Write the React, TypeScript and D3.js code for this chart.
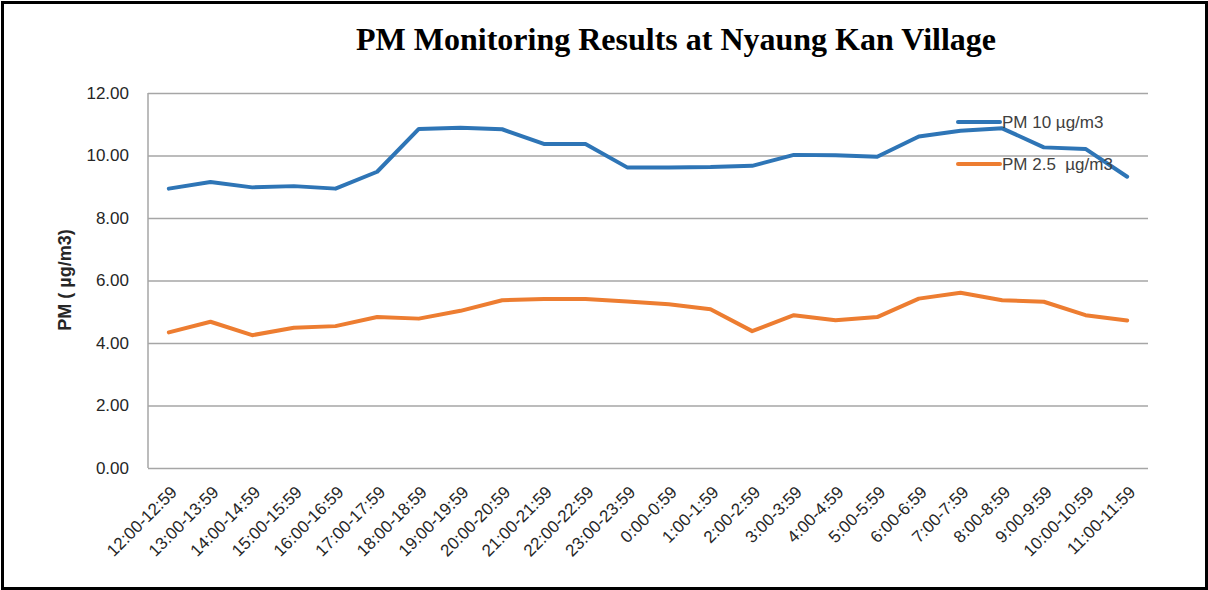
import * as d3 from "d3";
import React, { useRef, useEffect } from "react";

const hours = [
    "12:00-12:59", "13:00-13:59", "14:00-14:59", "15:00-15:59", "16:00-16:59",
    "17:00-17:59", "18:00-18:59", "19:00-19:59", "20:00-20:59", "21:00-21:59",
    "22:00-22:59", "23:00-23:59", "0:00-0:59", "1:00-1:59", "2:00-2:59",
    "3:00-3:59", "4:00-4:59", "5:00-5:59", "6:00-6:59", "7:00-7:59",
    "8:00-8:59", "9:00-9:59", "10:00-10:59", "11:00-11:59",
];

const pm10 = [
    8.94, 9.15, 8.98, 9.02, 8.94, 9.48, 10.85, 10.89, 10.84, 10.37, 10.37, 9.62,
    9.62, 9.63, 9.67, 10.02, 10.01, 9.96, 10.61, 10.79, 10.87, 10.26, 10.21, 9.32,
];

const pm25 = [
    4.34, 4.68, 4.25, 4.49, 4.54, 4.83, 4.78, 5.03, 5.37, 5.41, 5.41, 5.33,
    5.24, 5.08, 4.38, 4.89, 4.73, 4.83, 5.42, 5.61, 5.37, 5.32, 4.89, 4.72,
];

const seriesNames = ["PM 10 \u00b5g/m3", "PM 2.5  \u00b5g/m3"];
const seriesColors = ["#2e75b6", "#ed7d31"];
const yTicks = [0, 2, 4, 6, 8, 10, 12];

function PmChart() {
    const width = 1208;
    const height = 590;
    const margin = { top: 93, right: 60, bottom: 122, left: 148 };
    const axisFont = "'Liberation Sans', Arial, sans-serif";

    const xScale = d3
        .scaleBand()
        .domain(hours)
        .range([margin.left, width - margin.right])
        .padding(0);

    const yScale = d3
        .scaleLinear()
        .domain([0, 12])
        .range([height - margin.bottom, margin.top]);

    const xPos = (i) => (xScale(hours[i]) || 0) + xScale.bandwidth() / 2;

    const lineBuilder = d3.line()
        .x((d, i) => xPos(i))
        .y((d) => yScale(d));

    const gridRef = useRef(null);
    const xAxisRef = useRef(null);

    useEffect(() => {
        const grid = d3.select(gridRef.current);
        grid.selectAll("*").remove();

        const yAxisGenerator = d3.axisLeft(yScale)
            .tickValues(yTicks)
            .tickSize(-(width - margin.left - margin.right))
            .tickPadding(19)
            .tickFormat(d3.format(".2f"));

        grid.attr("transform", `translate(${margin.left}, 0)`)
            .call(yAxisGenerator);
        grid.select(".domain")
            .attr("stroke", "#a6a6a6")
            .attr("stroke-width", 1.5)
            .attr("d", `M0,${margin.top}V${height - margin.bottom}`);
        grid.selectAll(".tick line")
            .attr("stroke", "#a6a6a6")
            .attr("stroke-width", 1.5);
        grid.selectAll(".tick text")
            .attr("fill", "#262626")
            .style("font-family", axisFont)
            .style("font-size", "17px");

        const xg = d3.select(xAxisRef.current);
        xg.selectAll("*").remove();
        const xAxisGenerator = d3.axisBottom(xScale).tickSize(0).tickPadding(0);
        xg.attr("transform", `translate(0, ${height - margin.bottom})`)
            .call(xAxisGenerator);
        xg.select(".domain").remove();
        xg.selectAll(".tick text")
            .attr("fill", "#262626")
            .attr("text-anchor", "end")
            .attr("dy", "0.35em")
            .attr("transform", "translate(5, 21) rotate(-45)")
            .style("font-family", axisFont)
            .style("font-size", "17px");
    }, [xScale, yScale]);

    return (
        <svg
            width={width}
            height={height}
            style={{ position: "absolute", left: 0, top: 0, background: "#fff" }}
        >
            <rect x={2.5} y={2.5} width={width - 4} height={height - 4}
                fill="#fff" stroke="#000" strokeWidth={3} />
            <text
                x={676}
                y={50}
                textAnchor="middle"
                fontFamily="'Liberation Serif', 'Times New Roman', serif"
                fontWeight="bold"
                fontSize={32}
                fill="#000"
            >
                PM Monitoring Results at Nyaung Kan Village
            </text>
            <g ref={gridRef} />
            <g ref={xAxisRef} />
            <text
                transform={`translate(71, 280) rotate(-90)`}
                textAnchor="middle"
                fontFamily={axisFont}
                fontWeight="bold"
                fontSize={18}
                fill="#262626"
            >
                PM ( {"\u00b5"}g/m3)
            </text>
            {[pm10, pm25].map((s, k) => (
                <path
                    key={k}
                    d={lineBuilder(s) || undefined}
                    fill="none"
                    stroke={seriesColors[k]}
                    strokeWidth={4}
                    strokeLinejoin="round"
                    strokeLinecap="round"
                />
            ))}
            {seriesNames.map((name, k) => (
                <g key={name} transform={`translate(958, ${122 + k * 42})`}>
                    <line x1={0} x2={42} y1={0} y2={0}
                        stroke={seriesColors[k]} strokeWidth={4} strokeLinecap="round" />
                    <text x={44} y={6} fontFamily={axisFont} fontSize={17}
                        fill="#404040" style={{ whiteSpace: "pre" }}>
                        {name}
                    </text>
                </g>
            ))}
        </svg>
    );
}

export default function App() {
    return <PmChart />;
}
